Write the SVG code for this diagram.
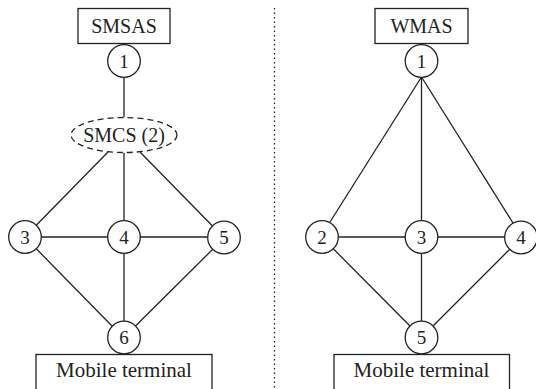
<svg xmlns="http://www.w3.org/2000/svg" width="536" height="389" viewBox="0 0 536 389">
<style>
.box{fill:#fff;stroke:#222;stroke-width:1.3}
.nd{fill:#fff;stroke:#222;stroke-width:1.3}
.dash{fill:#fff;stroke:#222;stroke-width:1.3;stroke-dasharray:6 4}
.ln{stroke:#222;stroke-width:1.3;fill:none}
.sep{stroke:#222;stroke-width:1.3;stroke-dasharray:1.5 3;fill:none}
</style>
<line class="sep" x1="274.5" y1="8" x2="274.5" y2="389"/>
<g id="connectors">
<line class="ln" x1="124" y1="77" x2="124" y2="117.5"/>
<line class="ln" x1="108" y1="152" x2="36.5" y2="225"/>
<line class="ln" x1="124" y1="152.5" x2="124" y2="220"/>
<line class="ln" x1="140" y1="152" x2="212.5" y2="226"/>
<line class="ln" x1="41" y1="237" x2="107.5" y2="237"/>
<line class="ln" x1="140" y1="237" x2="207.5" y2="237"/>
<line class="ln" x1="36.5" y1="249" x2="112" y2="326"/>
<line class="ln" x1="124" y1="253" x2="124" y2="321"/>
<line class="ln" x1="212.5" y1="249.5" x2="135.5" y2="326"/>
<line class="ln" x1="421.5" y1="77" x2="330" y2="222"/>
<line class="ln" x1="421.5" y1="77" x2="421.5" y2="220.5"/>
<line class="ln" x1="421.5" y1="77" x2="513" y2="223"/>
<line class="ln" x1="338.5" y1="237" x2="405" y2="237"/>
<line class="ln" x1="438" y1="237" x2="504.5" y2="237"/>
<line class="ln" x1="333.5" y1="249" x2="410" y2="326"/>
<line class="ln" x1="421.5" y1="253" x2="421.5" y2="321"/>
<line class="ln" x1="509.5" y1="249.5" x2="433" y2="326"/>
</g>
<g fill="#222" text-anchor="middle" font-family="Liberation Serif, DejaVu Serif, Times New Roman, serif">
<g id="smsas"><rect class="box" x="78" y="8.5" width="92" height="35"/><text font-size="20" x="124" y="32.5">SMSAS</text></g>
<g id="l1"><circle class="nd" cx="124" cy="61" r="16.3"/><text font-size="19" x="124" y="67.5">1</text></g>
<g id="smcs"><ellipse class="dash" cx="124" cy="135" rx="53" ry="17.5"/><text font-size="20" x="124" y="141.5">SMCS (2)</text></g>
<g id="l3"><circle class="nd" cx="25" cy="237" r="16.3"/><text font-size="19" x="25" y="243.5">3</text></g>
<g id="l4"><circle class="nd" cx="124" cy="237" r="16.3"/><text font-size="19" x="124" y="243.5">4</text></g>
<g id="l5"><circle class="nd" cx="224" cy="237.5" r="16.3"/><text font-size="19" x="224" y="244">5</text></g>
<g id="l6"><circle class="nd" cx="124" cy="337.5" r="16.3"/><text font-size="19" x="124" y="344">6</text></g>
<g id="lmt"><rect class="box" x="36" y="354.5" width="176" height="40"/><text font-size="21" x="124" y="376.5">Mobile terminal</text></g>
<g id="wmas"><rect class="box" x="375" y="8.5" width="93" height="35"/><text font-size="20" x="421.5" y="32.5">WMAS</text></g>
<g id="r1"><circle class="nd" cx="421.5" cy="61" r="16.3"/><text font-size="19" x="421.5" y="67.5">1</text></g>
<g id="r2"><circle class="nd" cx="322" cy="237" r="16.3"/><text font-size="19" x="322" y="243.5">2</text></g>
<g id="r3"><circle class="nd" cx="421.5" cy="237" r="16.3"/><text font-size="19" x="421.5" y="243.5">3</text></g>
<g id="r4"><circle class="nd" cx="521" cy="237.5" r="16.3"/><text font-size="19" x="521" y="244">4</text></g>
<g id="r5"><circle class="nd" cx="421.5" cy="337.5" r="16.3"/><text font-size="19" x="421.5" y="344">5</text></g>
<g id="rmt"><rect class="box" x="334" y="354.5" width="175.5" height="40"/><text font-size="21" x="421.5" y="376.5">Mobile terminal</text></g>
</g>
</svg>
